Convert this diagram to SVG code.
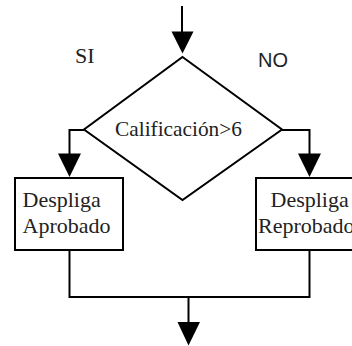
<svg xmlns="http://www.w3.org/2000/svg" width="352" height="346" viewBox="0 0 352 346">
  <style>
    .ln { fill: none; stroke: #000; stroke-width: 2; }
    .shape { fill: #fff; stroke: #000; stroke-width: 2; }
    .head { fill: #000; stroke: none; }
    .serif { font-family: "Liberation Serif", "Times New Roman", serif; font-size: 22px; fill: #222; }
    .sans { font-family: "Liberation Sans", Arial, sans-serif; font-size: 20px; fill: #222; }
  </style>
  <rect width="352" height="346" fill="#fff"/>

  <!-- connectors -->
  <g id="connectors">
    <!-- entry -->
    <path class="ln" d="M182 6 V34"/>
    <polygon class="head" points="171.5,31.5 193.5,31.5 182.5,53.5"/>
    <!-- yes branch -->
    <path class="ln" d="M84 130 H69.5 V156"/>
    <polygon class="head" points="58,153.5 81,153.5 69.5,177"/>
    <!-- no branch -->
    <path class="ln" d="M271 130 H309.5 V156"/>
    <polygon class="head" points="298,153.5 321,153.5 309.5,177"/>
    <!-- merge -->
    <path class="ln" d="M69.5 250 V297 H309.5 V250"/>
    <path class="ln" d="M188.5 297 V325"/>
    <polygon class="head" points="177.5,322 200,322 188.5,345.5"/>
  </g>

  <!-- branch labels -->
  <text class="serif" x="75" y="62.5">SI</text>
  <text class="sans" x="258" y="67">NO</text>

  <!-- decision -->
  <g id="decision">
    <polygon class="shape" points="182.5,57 282,129.5 182.5,200 84,129.5"/>
    <text class="serif" x="115" y="136" textLength="127" lengthAdjust="spacingAndGlyphs">Calificación&gt;6</text>
  </g>

  <!-- pass -->
  <g id="aprobado">
    <rect class="shape" x="15" y="178" width="108" height="72"/>
    <text class="serif" x="22.5" y="206.5">Despliga</text>
    <text class="serif" x="22.5" y="233">Aprobado</text>
  </g>

  <!-- fail -->
  <g id="reprobado">
    <rect class="shape" x="256" y="178" width="108" height="72"/>
    <text class="serif" x="270.5" y="206.5">Despliga</text>
    <text class="serif" x="258" y="233">Reprobado</text>
  </g>
</svg>
